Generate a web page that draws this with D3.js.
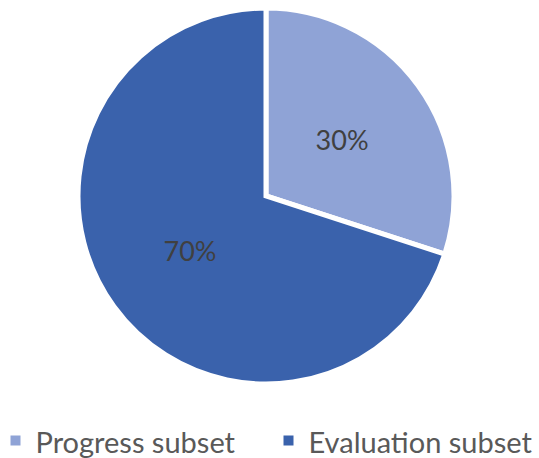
<!DOCTYPE html>
<html><head><meta charset="utf-8">
<script src="https://cdn.jsdelivr.net/npm/d3@7"></script>
<style>body{margin:0;background:#fff}svg{display:block}</style>
</head><body>
<script>
const categories = ["Progress subset", "Evaluation subset"];
const values = [30, 70];
const labels = ["30%", "70%"];
const colors = ["#8FA3D6", "#3A62AC"];

const W = 539, H = 458;
const svg = d3.select("body").append("svg").attr("width", W).attr("height", H);
const cx = 266, cy = 196, R = 188;
const pie = d3.pie().sort(null).value(d => d)(values);
const arc = d3.arc().innerRadius(0).outerRadius(R);
const g = svg.append("g").attr("transform", `translate(${cx},${cy})`);
g.selectAll("path").data(pie).join("path")
  .attr("d", arc).attr("fill", (d, i) => colors[i])
  .attr("stroke", "#fff").attr("stroke-width", 5).attr("stroke-linejoin", "miter");
g.selectAll("text").data(pie).join("text")
  .attr("transform", d => `translate(${arc.centroid(d)})`)
  .attr("text-anchor", "middle").attr("dy", "0.36em")
  .attr("font-family", "Lato, 'Open Sans', sans-serif").attr("font-size", 27)
  .attr("fill", "#404040").text((d, i) => labels[i]);

const legendX = [10.5, 283.5];
const lg = svg.append("g");
categories.forEach((c, i) => {
  lg.append("rect").attr("x", legendX[i]).attr("y", 435.5).attr("width", 10).attr("height", 10).attr("fill", colors[i]);
  lg.append("text").attr("x", legendX[i] + 25).attr("y", 453)
    .attr("font-family", "Lato, 'Open Sans', sans-serif").attr("font-size", 29)
    .attr("fill", "#595959").text(c);
});
</script>
</body></html>
